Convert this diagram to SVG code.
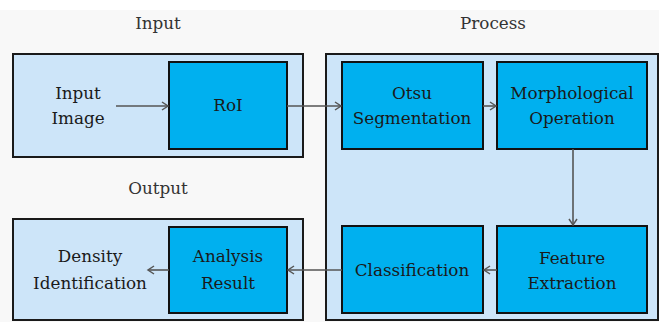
<svg xmlns="http://www.w3.org/2000/svg" width="659" height="322" viewBox="0 0 659 322">
<defs>
<style>
.grp{fill:#cde5f9;stroke:#1a1a1a;stroke-width:2}
.node{fill:#00b0ef;stroke:#111;stroke-width:2}
.t{font-family:"DejaVu Serif","Liberation Serif",serif;font-size:16.8px;fill:#1a1a1a;text-anchor:middle}
.h{font-family:"DejaVu Serif","Liberation Serif",serif;font-size:16.8px;fill:#333;text-anchor:middle}
.c{stroke:#555;stroke-width:1.6;fill:none;marker-end:url(#a)}
</style>
<marker id="a" markerWidth="10" markerHeight="10" refX="8" refY="5" orient="auto" markerUnits="userSpaceOnUse">
<path d="M2,1 L8,5 L2,9" fill="none" stroke="#555" stroke-width="1.5"/>
</marker>
</defs>
<rect x="0" y="0" width="659" height="322" fill="#f8f8f8"/>
<rect x="0" y="0" width="659" height="10" fill="#ffffff"/>
<g id="input">
<text class="h" x="158" y="29">Input</text>
<rect class="grp" x="13" y="54" width="290" height="103"/>
<text class="t" x="78" y="99">Input</text>
<text class="t" x="78" y="124">Image</text>
</g>
<g id="process">
<text class="h" x="493" y="29">Process</text>
<rect class="grp" x="326" y="54" width="332" height="266"/>
</g>
<g id="output">
<text class="h" x="158" y="194">Output</text>
<rect class="grp" x="13" y="219" width="290" height="101"/>
<text class="t" x="90" y="262">Density</text>
<text class="t" x="90" y="289">Identification</text>
</g>
<g id="roi">
<rect class="node" x="169" y="62" width="118" height="87"/>
<text class="t" x="228" y="111">RoI</text>
</g>
<g id="otsu">
<rect class="node" x="342" y="62" width="141" height="87"/>
<text class="t" x="412" y="99">Otsu</text>
<text class="t" x="412" y="124">Segmentation</text>
</g>
<g id="morph">
<rect class="node" x="497" y="62" width="150" height="87"/>
<text class="t" x="572" y="99">Morphological</text>
<text class="t" x="572" y="124">Operation</text>
</g>
<g id="feature">
<rect class="node" x="497" y="226" width="150" height="87"/>
<text class="t" x="572" y="264">Feature</text>
<text class="t" x="572" y="289">Extraction</text>
</g>
<g id="classification">
<rect class="node" x="342" y="226" width="141" height="87"/>
<text class="t" x="412" y="276">Classification</text>
</g>
<g id="analysis">
<rect class="node" x="169" y="227" width="118" height="86"/>
<text class="t" x="228" y="262">Analysis</text>
<text class="t" x="228" y="289">Result</text>
</g>
<g id="connectors">
<line class="c" x1="116" y1="106" x2="168" y2="106"/>
<line class="c" x1="287" y1="106" x2="341" y2="106"/>
<line class="c" x1="483" y1="106" x2="496" y2="106"/>
<line class="c" x1="573" y1="149" x2="573" y2="225"/>
<line class="c" x1="497" y1="270" x2="484" y2="270"/>
<line class="c" x1="342" y1="270" x2="288" y2="270"/>
<line class="c" x1="169" y1="270" x2="148" y2="270"/>
</g>
</svg>
